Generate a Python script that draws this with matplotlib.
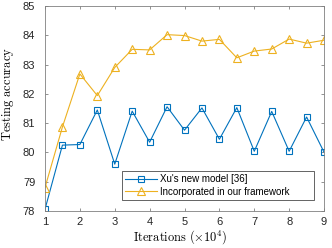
import numpy as np
import matplotlib
matplotlib.use('Agg')
import matplotlib.pyplot as plt

iterations = [1, 1.5, 2, 2.5, 3, 3.5, 4, 4.5, 5, 5.5, 6, 6.5, 7, 7.5, 8, 8.5, 9]
xu_model = [78.06, 80.25, 80.27, 81.45, 79.60, 81.41, 80.35, 81.56, 80.76,
            81.52, 80.45, 81.53, 80.04, 81.40, 80.04, 81.21, 80.01]
ours = [78.80, 80.87, 82.68, 81.94, 82.90, 83.52, 83.50, 84.02, 83.99,
        83.80, 83.86, 83.23, 83.46, 83.53, 83.87, 83.73, 83.83]
labels = ["Xu's new model [36]", 'Incorporated in our framework']

plt.rcParams['font.family'] = ['Liberation Sans', 'DejaVu Sans']
plt.rcParams['mathtext.fontset'] = 'cm'

fig = plt.figure(figsize=(3.32, 2.48), dpi=100)
ax = fig.add_axes([0.1355, 0.149, 0.8405, 0.827])

ax.plot(iterations, xu_model, '-s', color='#0072BD', linewidth=0.8,
        markersize=5, markerfacecolor='none', markeredgewidth=0.8, label=labels[0])
ax.plot(iterations, ours, '-^', color='#EDB120', linewidth=0.8,
        markersize=5.5, markerfacecolor='none', markeredgewidth=0.8, label=labels[1])

ax.set_xlim(1, 9)
ax.set_ylim(78, 85)
ax.set_xticks(range(1, 10))
ax.set_yticks(range(78, 86))
ax.tick_params(direction='in', top=True, right=True, length=2.5, width=0.6,
               labelsize=8, colors='#808080', labelcolor='#262626')
ax.tick_params(axis='x', pad=4.5)
ax.tick_params(axis='y', pad=7)
for s in ax.spines.values():
    s.set_linewidth(0.6)
    s.set_color('#808080')

ax.set_xlabel(r'$\mathrm{Iterations}\ (\times 10^4)$', fontsize=9)
ax.xaxis.set_label_coords(0.485, -0.085)
ax.set_ylabel(r'$\mathrm{Testing\ accuracy}$', fontsize=9)
ax.yaxis.set_label_coords(-0.103, 0.57)

leg = ax.legend(loc='lower left', bbox_to_anchor=(0.276, 0.054, 0.688, 0.1),
                mode='expand', fontsize=7,
                fancybox=False, framealpha=1, edgecolor='#262626',
                handlelength=3.3, borderpad=0.35, labelspacing=0.25,
                handletextpad=0.3, borderaxespad=0)
leg.get_frame().set_linewidth(0.5)

fig.savefig('out.png', dpi=100)
